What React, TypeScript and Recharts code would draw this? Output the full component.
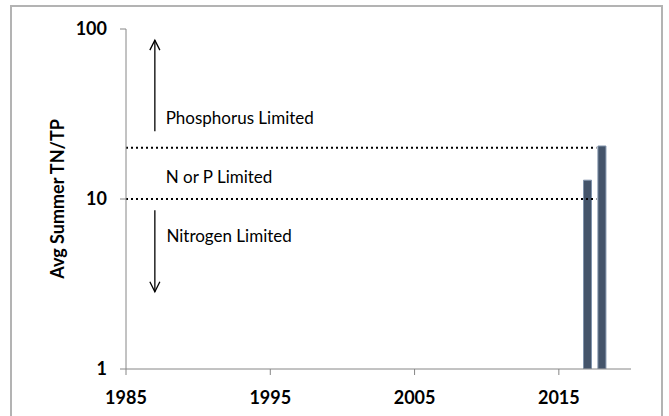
import {
  Bar,
  ComposedChart,
  ReferenceDot,
  ReferenceLine,
  XAxis,
  YAxis,
} from "recharts";

const years = [2017, 2018];
const tnTp = [12.9, 20.5];
const xTicks = [1985, 1995, 2005, 2015];
const yTicks = [1, 10, 100];

// dotted limit lines (TN/TP ratios) drawn from start of record to last sample
const limitValues = [10, 20];
const limitStart = 1985;
const limitEnd = 2017.6;

// arrows: [year, from, to]
const arrowYear = 1987;
const arrowUp = [25, 86];
const arrowDown = [8.6, 2.85];

const noteTexts = ["Phosphorus Limited", "N or P Limited", "Nitrogen Limited"];
const noteYears = [1987.75, 1987.75, 1987.8];
const noteValues = [30, 13.5, 6.1];

const data = years.map((year, i) => ({ year, ratio: tnTp[i] }));

const FONT = "Lato, 'Open Sans', sans-serif";
const AXIS = "#868686";

type LineShapeProps = { x1?: number; y1?: number; x2?: number; y2?: number };

function ArrowShape(props: LineShapeProps) {
  const { x1 = 0, y1 = 0, x2 = 0, y2 = 0 } = props;
  const dir = y2 < y1 ? 1 : -1;
  return (
    <g stroke="#000" strokeWidth={1.3} fill="none">
      <line x1={x1} y1={y1} x2={x2} y2={y2} />
      <polyline points={`${x2 - 5},${y2 + dir * 10} ${x2},${y2} ${x2 + 5},${y2 + dir * 10}`} />
    </g>
  );
}

function NoteText({ cx, cy, text }: { cx?: number; cy?: number; text: string }) {
  return (
    <text x={cx} y={cy} dominantBaseline="central" fontFamily={FONT} fontSize={17} fill="#000">
      {text}
    </text>
  );
}

export default function App() {
  return (
    <div style={{ position: "absolute", left: 0, top: 0, width: 669, height: 416, overflow: "hidden", background: "#fff" }}>
      <div
        style={{
          position: "absolute",
          left: 10,
          top: 5,
          width: 653,
          height: 440,
          border: "2px solid #b3b3b3",
          boxSizing: "border-box",
        }}
      />
      <ComposedChart
        width={669}
        height={416}
        data={data}
        margin={{ top: 29, right: 38, bottom: 17, left: 26 }}
        style={{ position: "absolute", left: 0, top: 0 }}
      >
        <XAxis
          dataKey="year"
          type="number"
          domain={[1985, 2020]}
          ticks={xTicks}
          height={30}
          stroke={AXIS}
          tickSize={6}
          tickMargin={16}
          tick={{ fontFamily: FONT, fontSize: 18, fontWeight: 700, fill: "#000" }}
          allowDataOverflow
        />
        <YAxis
          type="number"
          scale="log"
          domain={[1, 100]}
          ticks={yTicks}
          width={100}
          stroke={AXIS}
          tickSize={6}
          tickMargin={13}
          tick={{ fontFamily: FONT, fontSize: 18, fontWeight: 700, fill: "#000" }}
          allowDataOverflow
          label={{
            content: ({ viewBox }: any) => {
              const cx = viewBox.x + 31;
              const cy = viewBox.y + viewBox.height / 2;
              return (
                <text
                  x={cx}
                  y={cy}
                  transform={`rotate(-90 ${cx} ${cy})`}
                  textAnchor="middle"
                  dominantBaseline="central"
                  fontFamily={FONT}
                  fontSize={18}
                  fontWeight={700}
                  fill="#000"
                >
                  Avg Summer TN/TP
                </text>
              );
            },
          }}
        />
        {limitValues.map((v) => (
          <ReferenceLine
            key={v}
            segment={[
              { x: limitStart, y: v },
              { x: limitEnd, y: v },
            ]}
            stroke="#000"
            strokeWidth={2}
            strokeDasharray="2 3"
          />
        ))}
        <ReferenceLine
          segment={[
            { x: arrowYear, y: arrowUp[0] },
            { x: arrowYear, y: arrowUp[1] },
          ]}
          shape={(p: any) => <ArrowShape {...p} />}
        />
        <ReferenceLine
          segment={[
            { x: arrowYear, y: arrowDown[0] },
            { x: arrowYear, y: arrowDown[1] },
          ]}
          shape={(p: any) => <ArrowShape {...p} />}
        />
        {noteTexts.map((t, i) => (
          <ReferenceDot
            key={t}
            x={noteYears[i]}
            y={noteValues[i]}
            r={0}
            shape={(p: any) => <NoteText cx={p.cx} cy={p.cy} text={t} />}
          />
        ))}
        <Bar dataKey="ratio" barSize={8} fill="#44546A" stroke="#8093ab" strokeWidth={1} isAnimationActive={false} />
      </ComposedChart>
    </div>
  );
}
